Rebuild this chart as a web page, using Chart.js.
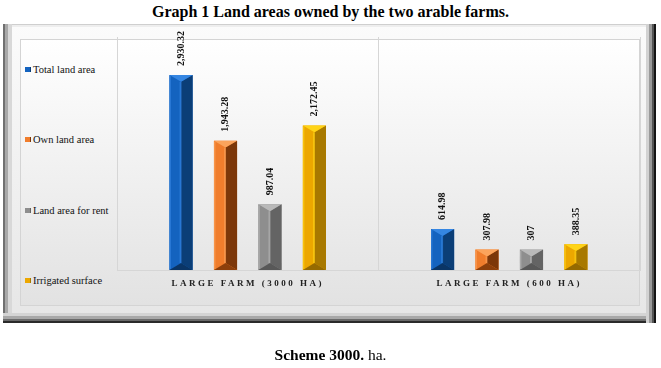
<!DOCTYPE html>
<html>
<head>
<meta charset="utf-8">
<script src="https://cdn.jsdelivr.net/npm/chart.js@4.4.0/dist/chart.umd.min.js"></script>
<style>
html, body { margin:0; padding:0; background:#fff; }
body { width:661px; height:368px; position:relative; overflow:hidden; font-family:"Liberation Serif", serif; }
#title { position:absolute; left:0; top:2px; width:661px; text-align:center; font-weight:bold; font-size:16px; line-height:19px; color:#000; }
#frame { position:absolute; left:3px; top:24px; width:653px; height:299px; box-sizing:border-box;
  background:linear-gradient(#fbfbfb, #e6e6e6);
  box-shadow: inset -2px 0 0 #151515, inset -4px 0 0 #555, inset -7px 0 0 #9a9a9a, inset -10px 0 0 #d2d2d2,
              inset 0 -2px 0 #2a2a2a, inset 0 -4px 0 #6a6a6a, inset 0 -7px 0 #a8a8a8, inset 0 -10px 0 #d4d4d4,
              inset 2px 0 0 #707070, inset 5px 0 0 #a8a8a8, inset 9px 0 0 #d8d8d8,
              inset 0 1px 0 #cfcfcf, inset 0 3px 0 #eeeeee; }
#panel { position:absolute; left:20px; top:39px; width:620px; height:267px; box-sizing:border-box;
  border:1px solid #d4d4d4; background:linear-gradient(#ffffff, #e2e2e2); }
canvas { position:absolute; left:0; top:0; }
.lg { position:absolute; left:25px; font-family:"Liberation Serif", serif; font-size:10.5px; line-height:12px; color:#111; white-space:nowrap; }
.lg i { display:inline-block; width:5px; height:5px; margin-right:2px; vertical-align:1px; }
#caption { position:absolute; left:0; top:346px; width:661px; text-align:center; font-size:15.5px; line-height:18px; color:#000; }
</style>
</head>
<body>
<div id="title">Graph 1 Land areas owned by the two arable farms.</div>
<div id="frame"></div>
<div id="panel"></div>
<div id="legend"></div>
<canvas id="canvas" width="661" height="368"></canvas>
<div id="caption"><b>Scheme 3000.</b> ha.</div>
<script>
let categories = ['LARGE FARM (3000 HA)', 'LARGE FARM (600 HA)'] ;
let seriesNames = ['Total land area', 'Own land area', 'Land area for rent', 'Irrigated surface'] ;
let totalLand = [2930.32, 614.98] ;
let ownLand = [1943.28, 307.98] ;
let rentLand = [987.04, 307] ;
let irrigated = [2172.45, 388.35] ;
let yMax = 3500 ;

// shades for the bevelled columns: main(left), right, top, bottom
let shades = [
  ['#1463bf', '#0b3e77', '#3586e2', '#0a3566'],
  ['#f07d2c', '#7c3709', '#fba45c', '#8c3f0b'],
  ['#8e8e8e', '#646464', '#b9b9b9', '#585858'],
  ['#eca700', '#a87900', '#ffd417', '#956a00']
] ;

let legend = document.getElementById('legend') ;
seriesNames.forEach((name, i) => {
  let d = document.createElement('div') ;
  d.className = 'lg' ;
  d.style.top = (64 + i * 70.3) + 'px' ;
  d.innerHTML = '<i style="background:' + shades[i][0] + ';border-right:1px solid ' + shades[i][1] + '"></i>' + name ;
  legend.appendChild(d) ;
}) ;

let spacing = {
  id: 'spacing',
  beforeDraw(chart) { chart.ctx.letterSpacing = '2.5px' ; },
  beforeDatasetsDraw(chart) { chart.ctx.letterSpacing = '0px' ; }
} ;

function poly(ctx, pts, color) {
  ctx.beginPath() ;
  ctx.moveTo(pts[0][0], pts[0][1]) ;
  for (let k = 1; k < pts.length; k++) ctx.lineTo(pts[k][0], pts[k][1]) ;
  ctx.closePath() ;
  ctx.fillStyle = color ;
  ctx.fill() ;
}

let bevel = {
  id: 'bevel',
  afterDatasetsDraw(chart) {
    let ctx = chart.ctx ;
    ctx.save() ;
    chart.data.datasets.forEach((ds, i) => {
      let sh = shades[i] ;
      chart.getDatasetMeta(i).data.forEach((bar, j) => {
        let p = bar.getProps(['x', 'y', 'base', 'width'], true) ;
        let l = p.x - p.width / 2, r = p.x + p.width / 2, top = p.y, bot = p.base ;
        let h = Math.min(p.width * 0.3, (bot - top) / 2) ;
        poly(ctx, [[l, top], [p.x, top + h], [p.x, bot - h], [l, bot]], sh[0]) ;
        poly(ctx, [[r, top], [r, bot], [p.x, bot - h], [p.x, top + h]], sh[1]) ;
        poly(ctx, [[l, top], [r, top], [p.x, top + h]], sh[2]) ;
        poly(ctx, [[l, bot], [r, bot], [p.x, bot - h]], sh[3]) ;
        // thin highlight strips
        ctx.fillStyle = sh[2] ;
        ctx.globalAlpha = 0.6 ;
        ctx.fillRect(l, top + 1, 1.5, bot - top - 2) ;
        ctx.fillRect(p.x - 1.5, top + h, 2, Math.max(0, bot - top - 2 * h)) ;
        ctx.globalAlpha = 1 ;
        // value label, rotated
        let v = ds.data[j] ;
        let txt = v.toLocaleString('en-US', { maximumFractionDigits: 2 }) ;
        ctx.save() ;
        ctx.translate(p.x, top - 9) ;
        ctx.rotate(-Math.PI / 2) ;
        ctx.font = 'bold 10px "Liberation Serif"' ;
        ctx.fillStyle = '#111' ;
        ctx.textAlign = 'left' ;
        ctx.textBaseline = 'middle' ;
        ctx.fillText(txt, 0, 0) ;
        ctx.restore() ;
      }) ;
    }) ;
    ctx.restore() ;
  }
} ;

let canvas = document.getElementById('canvas') ;
let myChart = new Chart(canvas, {
  type: 'bar',
  data: {
    labels: categories,
    datasets: [
      { label: seriesNames[0], data: totalLand, backgroundColor: shades[0][0] },
      { label: seriesNames[1], data: ownLand, backgroundColor: shades[1][0] },
      { label: seriesNames[2], data: rentLand, backgroundColor: shades[2][0] },
      { label: seriesNames[3], data: irrigated, backgroundColor: shades[3][0] }
    ]
  },
  options: {
    responsive: false,
    animation: false,
    devicePixelRatio: 1,
    layout: { padding: { left: 117, top: 37, right: 21, bottom: 68 } },
    categoryPercentage: 0.68,
    barPercentage: 0.52,
    plugins: { legend: { display: false }, tooltip: { enabled: false } },
    scales: {
      x: {
        afterFit(s) { s.height = 30 ; },
        grid: { offset: true, color: '#d6d6d6', drawTicks: false },
        border: { color: '#d6d6d6' },
        ticks: { font: { family: 'Liberation Serif', size: 9, weight: 'bold' }, color: '#222', padding: 8, maxRotation: 0 }
      },
      y: { display: false, min: 0, max: yMax }
    }
  },
  plugins: [spacing, bevel]
}) ;
</script>
</body>
</html>
